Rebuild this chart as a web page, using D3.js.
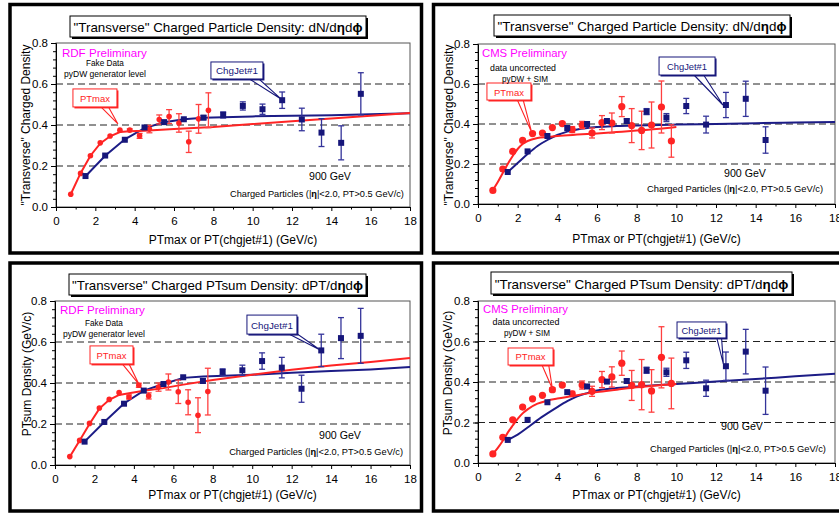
<!DOCTYPE html>
<html><head><meta charset="utf-8">
<script src="https://cdn.jsdelivr.net/npm/d3@7"></script>
<style>body{margin:0;background:#fff} svg{display:block} text{font-family:"Liberation Sans",Arial,Helvetica,sans-serif}</style>
</head><body><svg id="c" width="839" height="514"></svg>
<script>
// ---------------- DATA ----------------
const xTicks = [0,2,4,6,8,10,12,14,16,18];
const xMinorTicks = [1,3,5,7,9,11,13,15,17];
const yTicks = [0,0.2,0.4,0.6,0.8];
const gridVals = [0.2,0.4,0.6];

const rdfRedX  = [0.75,1.25,1.75,2.25,2.75,3.25,3.75,4.25,4.75,5.25,5.75,6.25,6.75,7.25,7.75];
const rdfBlueX = [1.5,2.5,3.5,4.5,5.5,6.5,7.5,8.5,9.5,10.5,11.5,12.5,13.5,14.5,15.5];
const cmsRedX  = [0.75,1.25,1.75,2.25,2.75,3.25,3.75,4.25,4.75,5.25,5.75,6.25,6.75,7.25,7.75,8.25,8.75,9.25,9.75];
const cmsBlueX = [1.5,2.5,3.5,4.5,5.5,6.5,7.5,8.5,9.5,10.5,11.5,12.5,13.5,14.5];

// Panel 1: RDF, dN/detadphi
const p1RedY   = [0.062,0.164,0.25,0.313,0.346,0.375,0.375,0.347,0.38,0.427,0.441,0.41,0.318,0.43,0.472];
const p1RedErr = [0,0,0,0,0,0,0.006,0.012,0.018,0.022,0.034,0.045,0.052,0.07,0.085];
const p1BlueY   = [0.151,0.251,0.328,0.388,0.414,0.428,0.436,0.449,0.493,0.477,0.521,0.427,0.363,0.313,0.552];
const p1BlueErr = [0,0,0,0,0,0,0.01,0.015,0.02,0.025,0.04,0.055,0.068,0.083,0.103];
const p1RedCurveX = [0.75,1.25,1.75,2.25,2.75,3.25,3.75,4.5,6,8,10,12,14,16,18];
const p1RedCurveY = [0.062,0.165,0.25,0.31,0.345,0.366,0.37,0.372,0.38,0.39,0.405,0.418,0.432,0.445,0.458];
const p1BlueCurveX = [1.5,2.5,3.5,4.5,5.5,6.5,7.5,10,12,14,16,18];
const p1BlueCurveY = [0.15,0.25,0.33,0.385,0.413,0.428,0.435,0.442,0.445,0.448,0.452,0.457];

// Panel 2: CMS, dN/detadphi
const p2RedY   = [0.068,0.175,0.263,0.318,0.352,0.355,0.382,0.402,0.372,0.395,0.355,0.407,0.405,0.487,0.392,0.368,0.395,0.485,0.315];
const p2RedErr = [0,0,0,0,0,0,0,0.006,0.015,0.018,0.025,0.035,0.05,0.05,0.085,0.096,0.115,0.13,0.081];
const p2BlueY   = [0.16,0.263,0.34,0.38,0.40,0.415,0.415,0.462,0.432,0.49,0.397,0.495,0.526,0.32];
const p2BlueErr = [0,0,0,0,0,0,0.01,0.015,0.02,0.038,0.042,0.063,0.088,0.066];
const p2RedCurveX = [0.75,1.0,1.25,1.5,1.75,2.0,2.25,2.5,3,3.5,4,5,6,7,8,9,10];
const p2RedCurveY = [0.07,0.11,0.155,0.2,0.24,0.275,0.3,0.315,0.33,0.335,0.34,0.347,0.353,0.36,0.367,0.375,0.385];
const p2BlueCurveX = [1.5,2,2.5,3,3.5,4,4.5,5,6,7,8,10,12,14,16,18];
const p2BlueCurveY = [0.16,0.205,0.25,0.29,0.32,0.345,0.362,0.373,0.385,0.39,0.393,0.397,0.40,0.404,0.407,0.41];

// Panel 3: RDF, dPT/detadphi
const p3RedY   = [0.041,0.12,0.203,0.278,0.32,0.353,0.332,0.389,0.337,0.38,0.405,0.357,0.306,0.243,0.358];
const p3RedErr = [0,0,0,0,0,0,0.01,0.01,0.015,0.02,0.039,0.057,0.061,0.085,0.114];
const p3BlueY   = [0.114,0.21,0.299,0.363,0.395,0.428,0.41,0.454,0.462,0.507,0.475,0.372,0.559,0.619,0.63];
const p3BlueErr = [0,0,0,0,0,0,0.01,0.015,0.025,0.04,0.05,0.066,0.079,0.1,0.134];
const p3RedCurveX = [0.75,1.25,1.75,2.25,2.75,3.25,3.75,4.5,5.5,6.5,8,10,12,14,16,18];
const p3RedCurveY = [0.04,0.12,0.2,0.275,0.318,0.342,0.35,0.362,0.375,0.392,0.415,0.44,0.465,0.485,0.503,0.522];
const p3BlueCurveX = [1.5,2.5,3.5,4.5,5.5,6.5,7.5,10,12,14,16,18];
const p3BlueCurveY = [0.114,0.21,0.3,0.363,0.395,0.425,0.432,0.44,0.45,0.458,0.466,0.478];

// Panel 4: CMS, dPT/detadphi
const p4RedY   = [0.045,0.127,0.213,0.276,0.317,0.334,0.362,0.385,0.342,0.385,0.354,0.412,0.425,0.493,0.383,0.387,0.356,0.522,0.393];
const p4RedErr = [0,0,0,0,0,0,0.01,0.008,0.012,0.02,0.025,0.04,0.05,0.06,0.074,0.124,0.105,0.151,0.125];
const p4BlueY   = [0.114,0.213,0.30,0.35,0.378,0.402,0.405,0.458,0.448,0.507,0.369,0.478,0.55,0.357];
const p4BlueErr = [0,0,0,0,0,0,0.01,0.015,0.02,0.04,0.04,0.07,0.11,0.117];
const p4RedCurveX = [0.75,1.0,1.25,1.5,1.75,2,2.25,2.5,3,3.5,4,5,6,7,8,9,10];
const p4RedCurveY = [0.045,0.075,0.11,0.15,0.185,0.218,0.245,0.265,0.293,0.308,0.318,0.335,0.35,0.362,0.374,0.383,0.39];
const p4BlueCurveX = [1.5,2,2.5,3,3.5,4,4.5,5,5.5,6,7,8,10,12,14,16,18];
const p4BlueCurveY = [0.114,0.14,0.175,0.212,0.245,0.276,0.305,0.329,0.345,0.358,0.37,0.378,0.39,0.402,0.415,0.428,0.441];

const titleDN = [{t:'"Transverse" Charged Particle Density: dN/d'},{t:'η',b:1},{t:'d'},{t:'ϕ',b:1}];
const titlePT = [{t:'"Transverse" Charged PTsum Density: dPT/d'},{t:'η',b:1},{t:'d'},{t:'ϕ',b:1}];
const chargedText = [{t:'Charged Particles (|'},{t:'η',b:1},{t:'|<2.0, PT>0.5 GeV/c)'}];

// ---------------- STYLE / LAYOUT ----------------
const RED = '#ff2424', RED_ERR = '#ff4040', BLUE = '#16167a', BLUE_LINE = '#1c1c86', BLUE_ERR = '#34349a', MAGENTA = '#ff00ff';
const svg = d3.select('#c');
const zip = (a,b) => a.map((v,i)=>[v,b[i]]);

const panels = [
 {frame:[10,4.5,411.5,248.5], l:56, r:410, t:43, b:207, cms:false,
  titleBox:[70,16,296,21], titleW:289, title:titleDN,
  ylab:'"Transverse" Charged Density', ylabPos:[30,125], xlabY:244,
  redX:rdfRedX, redY:p1RedY, redErr:p1RedErr, blueX:rdfBlueX, blueY:p1BlueY, blueErr:p1BlueErr,
  rc:[p1RedCurveX,p1RedCurveY], bc:[p1BlueCurveX,p1BlueCurveY],
  texts:[
   {s:[{t:'RDF Preliminary'}], x:0.3, y:0.732, a:'start', size:12.5, w:85, c:MAGENTA},
   {s:[{t:'Fake Data'}], x:2.49, y:0.688, a:'middle', size:9, w:38},
   {s:[{t:'pyDW generator level'}], x:2.49, y:0.634, a:'middle', size:9, w:82},
   {s:[{t:'900 GeV'}], x:13.93, y:0.132, a:'middle', size:12, w:42},
   {s:chargedText, x:13.27, y:0.049, a:'middle', size:10, w:174}],
  callouts:[
   {txt:'PTmax', c:RED, cx:1.98, cy:0.532, w:44, h:18, b1:5, b2:13, ax:3.15, ay:0.405, tw:30},
   {txt:'ChgJet#1', c:BLUE, cx:9.2, cy:0.666, w:52, h:17, b1:11, b2:21, ax:11.44, ay:0.527, tw:42}]},
 {frame:[433.5,4.5,420,248.5], l:478, r:835, t:44, b:204, cms:true,
  titleBox:[494,15,296,21], titleW:289, title:titleDN,
  ylab:'"Transverse" Charged Density', ylabPos:[453,125], xlabY:243,
  redX:cmsRedX, redY:p2RedY, redErr:p2RedErr, blueX:cmsBlueX, blueY:p2BlueY, blueErr:p2BlueErr,
  rc:[p2RedCurveX,p2RedCurveY], bc:[p2BlueCurveX,p2BlueCurveY],
  texts:[
   {s:[{t:'CMS Preliminary'}], x:0.2, y:0.735, a:'start', size:12.5, w:85, c:MAGENTA},
   {s:[{t:'data uncorrected'}], x:2.27, y:0.665, a:'middle', size:9, w:66},
   {s:[{t:'pyDW + SIM'}], x:2.37, y:0.61, a:'middle', size:9, w:46},
   {s:[{t:'900 GeV'}], x:13.46, y:0.135, a:'middle', size:12, w:42},
   {s:chargedText, x:12.96, y:0.06, a:'middle', size:10, w:176}],
  callouts:[
   {txt:'PTmax', c:RED, cx:1.56, cy:0.5625, w:44, h:17, b1:8, b2:14, ax:2.71, ay:0.357, tw:30},
   {txt:'ChgJet#1', c:BLUE, cx:10.54, cy:0.69, w:56, h:18, b1:6, b2:16, ax:12.35, ay:0.495, tw:40}]},
 {frame:[10,263,411.5,248], l:55, r:410, t:301, b:465, cms:false,
  titleBox:[69,274,297,21], titleW:291, title:titlePT,
  ylab:'PTsum Density (GeV/c)', ylabPos:[31,374], xlabY:499,
  redX:rdfRedX, redY:p3RedY, redErr:p3RedErr, blueX:rdfBlueX, blueY:p3BlueY, blueErr:p3BlueErr,
  rc:[p3RedCurveX,p3RedCurveY], bc:[p3BlueCurveX,p3BlueCurveY],
  texts:[
   {s:[{t:'RDF Preliminary'}], x:0.25, y:0.737, a:'start', size:12.5, w:85, c:MAGENTA},
   {s:[{t:'Fake Data'}], x:2.48, y:0.678, a:'middle', size:9, w:38},
   {s:[{t:'pyDW generator level'}], x:2.48, y:0.624, a:'middle', size:9, w:82},
   {s:[{t:'900 GeV'}], x:14.45, y:0.127, a:'middle', size:12, w:42},
   {s:chargedText, x:13.24, y:0.049, a:'middle', size:10, w:174}],
  callouts:[
   {txt:'PTmax', c:RED, cx:2.865, cy:0.537, w:43, h:18, b1:10, b2:17, ax:4.27, ay:0.392, tw:30},
   {txt:'ChgJet#1', c:BLUE, cx:11.0, cy:0.685, w:50, h:19, b1:15, b2:24, ax:13.47, ay:0.56, tw:42}]},
 {frame:[433.5,263,420,248], l:478, r:835, t:301, b:463, cms:true,
  titleBox:[491,272,301,22], titleW:294, title:titlePT,
  ylab:'PTsum Density (GeV/c)', ylabPos:[452,373], xlabY:499,
  redX:cmsRedX, redY:p4RedY, redErr:p4RedErr, blueX:cmsBlueX, blueY:p4BlueY, blueErr:p4BlueErr,
  rc:[p4RedCurveX,p4RedCurveY], bc:[p4BlueCurveX,p4BlueCurveY],
  texts:[
   {s:[{t:'CMS Preliminary'}], x:0.25, y:0.741, a:'start', size:12.5, w:85, c:MAGENTA},
   {s:[{t:'data uncorrected'}], x:2.42, y:0.681, a:'middle', size:9, w:67},
   {s:[{t:'pyDW + SIM'}], x:2.47, y:0.627, a:'middle', size:9, w:46},
   {s:[{t:'900 GeV'}], x:13.31, y:0.163, a:'middle', size:12, w:42},
   {s:chargedText, x:13.11, y:0.054, a:'middle', size:10, w:176}],
  callouts:[
   {txt:'PTmax', c:RED, cx:2.65, cy:0.526, w:45, h:17, b1:11, b2:18, ax:3.75, ay:0.367, tw:30},
   {txt:'ChgJet#1', c:BLUE, cx:11.27, cy:0.657, w:49, h:16, b1:15, b2:20, ax:12.37, ay:0.49, tw:40}]}
];

function richText(g, x, y, parts, size, anchor, color, targetW){
  const t = g.append('text').attr('x',x).attr('y',y).attr('font-size',size)
    .attr('text-anchor',anchor).attr('fill',color||'#000');
  parts.forEach(p => t.append('tspan').text(p.t).attr('font-weight', p.b ? 'bold' : null));
  if (targetW){
    const L = t.node().getComputedTextLength();
    if (L > 0) t.attr('font-size', size*targetW/L);
  }
  return t;
}

function drawPanel(p){
  const g = svg.append('g');
  const x = d3.scaleLinear().domain([0,18]).range([p.l,p.r]);
  const y = d3.scaleLinear().domain([0,0.8]).range([p.b,p.t]);

  // grid
  g.selectAll('line.grid').data(gridVals).join('line')
    .attr('x1',p.l).attr('x2',p.r).attr('y1',d=>y(d)).attr('y2',d=>y(d))
    .attr('stroke','#222').attr('stroke-width',1).attr('stroke-dasharray','7,4');
  // plot frame
  g.append('rect').attr('x',p.l).attr('y',p.t).attr('width',p.r-p.l).attr('height',p.b-p.t)
    .attr('fill','none').attr('stroke','#555').attr('stroke-width',1);

  // axes
  const ya = g.append('g').attr('transform',`translate(${p.l},0)`)
    .call(d3.axisLeft(y).tickValues(yTicks).tickFormat(d3.format('.1f')).tickSize(5).tickPadding(3));
  g.append('g').attr('transform',`translate(${p.l},0)`)
    .call(d3.axisLeft(y).tickValues(d3.range(0,0.801,0.04)).tickFormat('').tickSize(3))
    .select('.domain').remove();
  const xa = g.append('g').attr('transform',`translate(0,${p.b})`)
    .call(d3.axisBottom(x).tickValues(xTicks).tickFormat(d3.format('d')).tickSize(4).tickPadding(6));
  g.append('g').attr('transform',`translate(0,${p.b})`)
    .call(d3.axisBottom(x).tickValues(xMinorTicks).tickFormat('').tickSize(2.5))
    .select('.domain').remove();
  g.selectAll('.domain').attr('stroke','#000');
  g.selectAll('.tick line').attr('stroke','#000');
  g.selectAll('.tick text').attr('font-size',11.5).attr('fill','#000')
    .attr('font-family','"Liberation Sans",Arial,sans-serif');

  // axis titles
  g.append('text').attr('x',(p.l+p.r)/2).attr('y',p.xlabY).attr('text-anchor','middle')
    .attr('font-size',12).text('PTmax or PT(chgjet#1)  (GeV/c)');
  g.append('text').attr('transform',`translate(${p.ylabPos[0]},${p.ylabPos[1]}) rotate(-90)`)
    .attr('text-anchor','middle').attr('font-size',12).text(p.ylab);

  // curves
  const line = d3.line().x(d=>x(d[0])).y(d=>y(d[1]))
    .curve(p.cms ? d3.curveMonotoneX : d3.curveLinear);
  g.append('path').attr('d',line(zip(p.bc[0],p.bc[1]))).attr('fill','none')
    .attr('stroke',BLUE_LINE).attr('stroke-width',2);
  g.append('path').attr('d',line(zip(p.rc[0],p.rc[1]))).attr('fill','none')
    .attr('stroke',RED).attr('stroke-width',2);

  // error bars
  function errBars(xs, ys, es, color){
    const d = xs.map((v,i)=>({x:v,y:ys[i],e:es[i]})).filter(o=>o.e>0.005);
    const eg = g.append('g').attr('stroke',color).attr('stroke-width',1.3);
    eg.selectAll('line.v').data(d).join('line')
      .attr('x1',o=>x(o.x)).attr('x2',o=>x(o.x)).attr('y1',o=>y(o.y-o.e)).attr('y2',o=>y(o.y+o.e));
    eg.selectAll('line.t').data(d).join('line')
      .attr('x1',o=>x(o.x)-3).attr('x2',o=>x(o.x)+3).attr('y1',o=>y(o.y+o.e)).attr('y2',o=>y(o.y+o.e));
    eg.selectAll('line.b').data(d).join('line')
      .attr('x1',o=>x(o.x)-3).attr('x2',o=>x(o.x)+3).attr('y1',o=>y(o.y-o.e)).attr('y2',o=>y(o.y-o.e));
  }
  errBars(p.redX, p.redY, p.redErr, RED_ERR);
  g.selectAll('circle.red').data(zip(p.redX,p.redY)).join('circle')
    .attr('cx',d=>x(d[0])).attr('cy',d=>y(d[1])).attr('r',p.cms?3.6:2.8).attr('fill',RED);
  errBars(p.blueX, p.blueY, p.blueErr, BLUE_ERR);
  const sq = 6;
  g.selectAll('rect.blue').data(zip(p.blueX,p.blueY)).join('rect')
    .attr('x',d=>x(d[0])-sq/2).attr('y',d=>y(d[1])-sq/2).attr('width',sq).attr('height',sq).attr('fill',BLUE);

  // callouts
  p.callouts.forEach(c=>{
    const cx = x(c.cx), cy = y(c.cy), bx = cx - c.w/2, by = cy - c.h/2;
    g.append('polygon')
      .attr('points',`${cx+c.b1},${by+c.h-1} ${x(c.ax)},${y(c.ay)} ${cx+c.b2},${by+c.h-1}`)
      .attr('fill','#fff').attr('stroke',c.c).attr('stroke-width',1.1);
    g.append('rect').attr('x',bx+1.5).attr('y',by+1.5).attr('width',c.w).attr('height',c.h).attr('fill',c.c);
    g.append('rect').attr('x',bx).attr('y',by).attr('width',c.w).attr('height',c.h)
      .attr('fill','#fff').attr('stroke',c.c).attr('stroke-width',1);
    richText(g, cx, cy+4, [{t:c.txt}], 11, 'middle', c.c, c.tw);
  });

  // annotations
  p.texts.forEach(t => richText(g, x(t.x), y(t.y), t.s, t.size, t.a, t.c, t.w));

  // title box
  const [tx,ty,tw,th] = p.titleBox;
  g.append('rect').attr('x',tx+2).attr('y',ty+2).attr('width',tw).attr('height',th).attr('fill','#000');
  g.append('rect').attr('x',tx).attr('y',ty).attr('width',tw).attr('height',th)
    .attr('fill','#fff').attr('stroke','#000').attr('stroke-width',1);
  richText(g, tx+tw/2, ty+th-5, p.title, 14, 'middle', '#000', p.titleW);

  // outer frame
  const [fx,fy,fw,fh] = p.frame;
  g.append('rect').attr('x',fx).attr('y',fy).attr('width',fw).attr('height',fh)
    .attr('fill','none').attr('stroke','#000').attr('stroke-width',3.5);
}

panels.forEach(drawPanel);
</script></body></html>
